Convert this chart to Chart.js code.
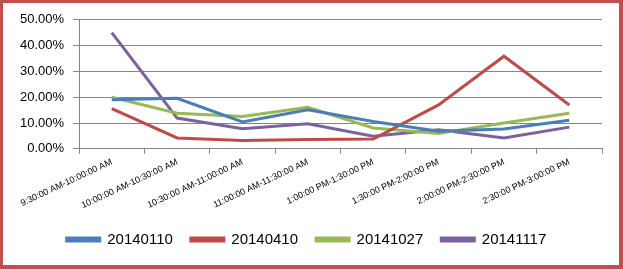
<!DOCTYPE html>
<html>
<head>
<meta charset="utf-8">
<script src="https://cdn.jsdelivr.net/npm/chart.js@4"></script>
<style>
    html, body { margin: 0; padding: 0; background: #fff; }
    #wrap {
        width: 623px; height: 269px; box-sizing: border-box;
        border: 3px solid #C0504D; border-right-width: 4px; border-bottom-width: 4px;
        background: #fff;
    }
</style>
</head>
<body>
<div id="wrap"><canvas id="lineChart" width="616" height="262"></canvas></div>
<script>
const categories = [
    "9:30:00 AM-10:00:00 AM",
    "10:00:00 AM-10:30:00 AM",
    "10:30:00 AM-11:00:00 AM",
    "11:00:00 AM-11:30:00 AM",
    "1:00:00 PM-1:30:00 PM",
    "1:30:00 PM-2:00:00 PM",
    "2:00:00 PM-2:30:00 PM",
    "2:30:00 PM-3:00:00 PM"
];
const seriesNames = ["20140110", "20140410", "20141027", "20141117"];
const s20140110 = [19.0, 19.6, 10.4, 15.1, 10.6, 6.8, 7.7, 11.1];
const s20140410 = [15.6, 4.2, 3.2, 3.6, 3.8, 17.0, 35.9, 17.0];
const s20141027 = [20.0, 13.8, 12.5, 16.1, 8.1, 5.9, 10.0, 13.8];
const s20141117 = [45.0, 11.9, 7.8, 9.7, 4.9, 7.4, 4.2, 8.4];
const seriesColors = ["#4A7EBB", "#BE4B48", "#98B954", "#7D60A0"];

document.addEventListener("DOMContentLoaded", function () {
    const ctx = document.getElementById("lineChart").getContext("2d");
    const values = [s20140110, s20140410, s20141027, s20141117];
    new Chart(ctx, {
        type: "line",
        data: {
            labels: categories,
            datasets: seriesNames.map((name, i) => ({
                label: name,
                data: values[i],
                borderColor: seriesColors[i],
                backgroundColor: seriesColors[i],
                borderWidth: 3,
                pointRadius: 0,
                tension: 0,
            })),
        },
        options: {
            responsive: false,
            animation: false,
            layout: { padding: { left: 8, right: 17, top: 16, bottom: 8 } },
            plugins: {
                tooltip: { enabled: false },
                legend: {
                    position: "bottom",
                    labels: {
                        boxWidth: 33,
                        boxHeight: 3,
                        padding: 18,
                        color: "#000",
                        font: { family: "Liberation Sans", size: 15 },
                    },
                },
            },
            scales: {
                x: {
                    offset: true,
                    grid: {
                        offset: true,
                        drawOnChartArea: false,
                        drawTicks: true,
                        tickLength: 5,
                        color: "#868686",
                    },
                    border: { color: "#868686" },
                    ticks: {
                        autoSkip: false,
                        minRotation: 25,
                        maxRotation: 25,
                        color: "#000",
                        font: { family: "Liberation Sans", size: 9 },
                    },
                },
                y: {
                    min: 0,
                    max: 50,
                    grid: { color: "#868686", tickLength: 6 },
                    border: { color: "#868686" },
                    ticks: {
                        stepSize: 10,
                        color: "#000",
                        padding: 9,
                        font: { family: "Liberation Sans", size: 13 },
                        callback: (v) => v.toFixed(2) + "%",
                    },
                },
            },
        },
    });
});
</script>
</body>
</html>
